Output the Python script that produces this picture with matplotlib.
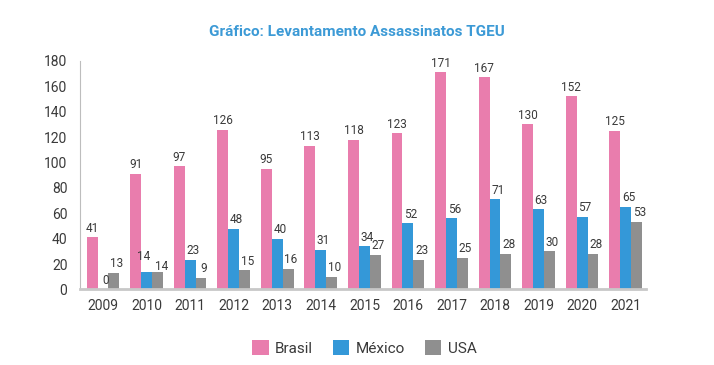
import numpy as np
import matplotlib.pyplot as plt

plt.rcParams['font.family'] = ['Roboto', 'DejaVu Sans']

YEARS = ['2009', '2010', '2011', '2012', '2013', '2014', '2015',
         '2016', '2017', '2018', '2019', '2020', '2021']
BRASIL = [41, 91, 97, 126, 95, 113, 118, 123, 171, 167, 130, 152, 125]
MEXICO = [0, 14, 23, 48, 40, 31, 34, 52, 56, 71, 63, 57, 65]
USA = [13, 14, 9, 15, 16, 10, 27, 23, 25, 28, 30, 28, 53]

SERIES = [("Brasil", BRASIL, "#E97DAD"),
          ("México", MEXICO, "#3498D8"),
          ("USA", USA, "#8F8F8F")]

# labels that sit side by side in the source get nudged (series, year index) -> (dx, dy) pt
NUDGE = {(1, 1): (-2, 6), (2, 1): (3, -1)}

TEXT = "#3a3a3a"

fig = plt.figure(figsize=(7.14, 3.65), dpi=100)
ax = fig.add_axes([0.112, 0.207, 0.793, 0.626])

x = np.arange(len(YEARS))
w = 0.25
for i, (name, vals, color) in enumerate(SERIES):
    pos = x + (i - 1) * w
    ax.bar(pos, vals, width=w, color=color, label=name)
    for j, (px, v) in enumerate(zip(pos, vals)):
        dx, dy = NUDGE.get((i, j), (0 if i == 0 else 2, 2))
        ax.annotate(str(v), (px, v), xytext=(dx, dy), textcoords="offset points",
                    ha="center", va="bottom", fontsize=8.5, color=TEXT)

ax.set_xlim(-0.53, len(YEARS) - 0.53)
ax.set_ylim(0, 180)
ax.set_yticks(range(0, 181, 20))
ax.set_xticks(x)
ax.set_xticklabels(YEARS)
ax.tick_params(length=0, labelsize=10, colors=TEXT)
ax.tick_params(axis="x", pad=7)
ax.tick_params(axis="y", pad=9)

for s in ["top", "right"]:
    ax.spines[s].set_visible(False)
ax.spines["left"].set_color("#bdbdbd")
ax.spines["left"].set_linewidth(0.8)
ax.spines["bottom"].set_color("#c8c8c8")
ax.spines["bottom"].set_linewidth(2)

fig.text(0.5, 0.913, "Gráfico: Levantamento Assassinatos TGEU", ha="center",
         va="center", fontsize=11, fontweight="bold", color="#3C9AD6")

fig.legend(loc="center", bbox_to_anchor=(0.51, 0.047), ncol=3, frameon=False,
           fontsize=11, handlelength=1.1, handleheight=1.1, columnspacing=1.3,
           handletextpad=0.4, labelcolor=TEXT)

fig.savefig("out.png", dpi=100)
